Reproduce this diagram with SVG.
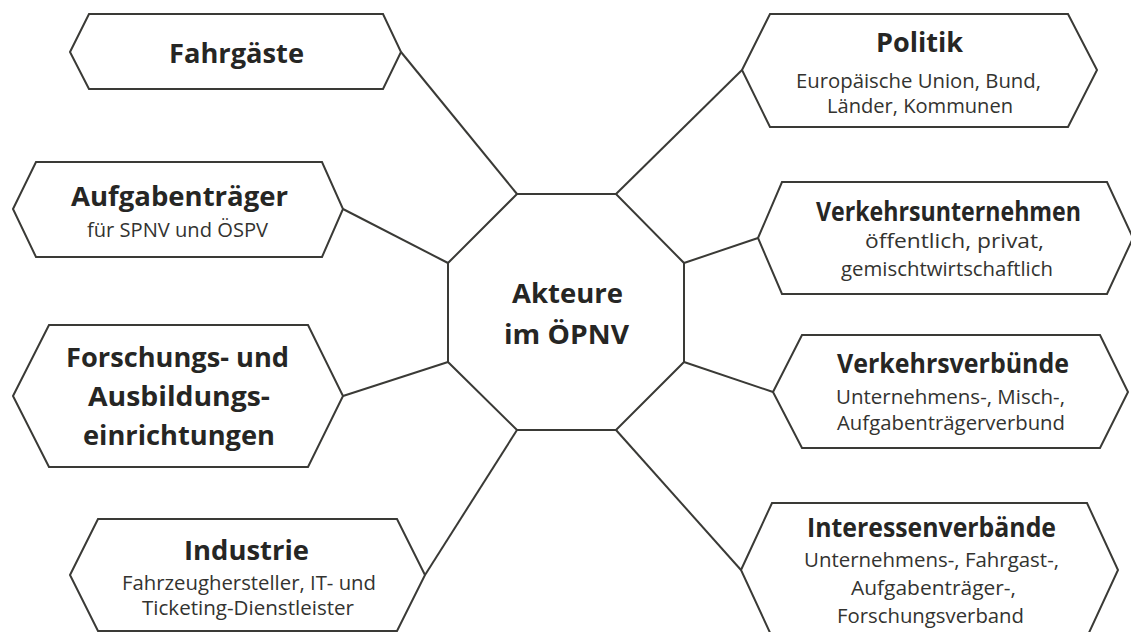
<svg xmlns="http://www.w3.org/2000/svg" width="1131" height="632" viewBox="0 0 1131 632">
<style>
.shape{fill:#fff;stroke:#3a3a36;stroke-width:2;stroke-linejoin:miter}
.conn{stroke:#3a3a36;stroke-width:2;fill:none}
.t{font-family:"Open Sans","Liberation Sans",sans-serif;font-weight:bold;font-size:26.5px;fill:#262624;text-anchor:middle}
.s{font-family:"Open Sans","Liberation Sans",sans-serif;font-size:20px;fill:#333330;text-anchor:middle}
</style>
<rect width="1131" height="632" fill="#fff"/>
<g id="connectors">
<line class="conn" x1="401" y1="52" x2="517" y2="194"/>
<line class="conn" x1="343" y1="209" x2="448" y2="263"/>
<line class="conn" x1="343" y1="396" x2="448" y2="362"/>
<line class="conn" x1="425" y1="575" x2="517" y2="430"/>
<line class="conn" x1="742" y1="70" x2="616" y2="194"/>
<line class="conn" x1="758" y1="238" x2="684" y2="263"/>
<line class="conn" x1="773" y1="392" x2="684" y2="362"/>
<line class="conn" x1="741" y1="570" x2="616" y2="430"/>
</g>
<g id="center">
<polygon class="shape" points="517,194 616,194 684,263 684,362 616,430 517,430 448,362 448,263"/>
<text class="t" x="567.5" y="303" textLength="111" lengthAdjust="spacingAndGlyphs">Akteure</text>
<text class="t" x="566.5" y="344" textLength="125" lengthAdjust="spacingAndGlyphs">im ÖPNV</text>
</g>
<g id="fahrgaeste">
<polygon class="shape" points="70,52 89,14 383,14 401,52 383,89 89,89"/>
<text class="t" x="236.5" y="63" textLength="135" lengthAdjust="spacingAndGlyphs">Fahrgäste</text>
</g>
<g id="aufgabentraeger">
<polygon class="shape" points="13,209 36,162 322,162 343,209 322,257 36,257"/>
<text class="t" x="179.5" y="206" textLength="217" lengthAdjust="spacingAndGlyphs">Aufgabenträger</text>
<text class="s" x="177.5" y="237" textLength="181" lengthAdjust="spacingAndGlyphs">für SPNV und ÖSPV</text>
</g>
<g id="forschung">
<polygon class="shape" points="13,396 49,325 308,325 343,396 308,467 49,467"/>
<text class="t" x="177.5" y="367" textLength="223" lengthAdjust="spacingAndGlyphs">Forschungs- und</text>
<text class="t" x="179" y="406" textLength="182" lengthAdjust="spacingAndGlyphs">Ausbildungs-</text>
<text class="t" x="179" y="445" textLength="192" lengthAdjust="spacingAndGlyphs">einrichtungen</text>
</g>
<g id="industrie">
<polygon class="shape" points="70,575 98,519 397,519 425,575 397,631 98,631"/>
<text class="t" x="246.5" y="560" textLength="125" lengthAdjust="spacingAndGlyphs">Industrie</text>
<text class="s" x="249" y="590" textLength="254" lengthAdjust="spacingAndGlyphs">Fahrzeughersteller, IT- und</text>
<text class="s" x="248" y="615" textLength="212" lengthAdjust="spacingAndGlyphs">Ticketing-Dienstleister</text>
</g>
<g id="politik">
<polygon class="shape" points="742,70 770,14 1068,14 1097,70 1068,127 770,127"/>
<text class="t" x="919.5" y="52" textLength="87" lengthAdjust="spacingAndGlyphs">Politik</text>
<text class="s" x="918.5" y="88" textLength="245" lengthAdjust="spacingAndGlyphs">Europäische Union, Bund,</text>
<text class="s" x="920" y="113" textLength="186" lengthAdjust="spacingAndGlyphs">Länder, Kommunen</text>
</g>
<g id="verkehrsunternehmen">
<polygon class="shape" points="758,238 782,182 1107,182 1133,238 1107,294 782,294"/>
<text class="t" x="948.5" y="221" textLength="265" lengthAdjust="spacingAndGlyphs">Verkehrsunternehmen</text>
<text class="s" x="954.5" y="248" textLength="179" lengthAdjust="spacingAndGlyphs">öffentlich, privat,</text>
<text class="s" x="947" y="276" textLength="212" lengthAdjust="spacingAndGlyphs">gemischtwirtschaftlich</text>
</g>
<g id="verkehrsverbuende">
<polygon class="shape" points="773,392 802,335 1100,335 1128,392 1100,448 802,448"/>
<text class="t" x="953" y="373" textLength="232" lengthAdjust="spacingAndGlyphs">Verkehrsverbünde</text>
<text class="s" x="950.5" y="404" textLength="229" lengthAdjust="spacingAndGlyphs">Unternehmens-, Misch-,</text>
<text class="s" x="951" y="430" textLength="228" lengthAdjust="spacingAndGlyphs">Aufgabenträgerverbund</text>
</g>
<g id="interessenverbaende">
<polygon class="shape" points="741,570 772,503 1087,503 1118,570 1087,637 772,637"/>
<text class="t" x="931.5" y="537" textLength="249" lengthAdjust="spacingAndGlyphs">Interessenverbände</text>
<text class="s" x="931.5" y="567" textLength="255" lengthAdjust="spacingAndGlyphs">Unternehmens-, Fahrgast-,</text>
<text class="s" x="933.5" y="595" textLength="165" lengthAdjust="spacingAndGlyphs">Aufgabenträger-,</text>
<text class="s" x="930.5" y="623" textLength="187" lengthAdjust="spacingAndGlyphs">Forschungsverband</text>
</g>
</svg>
